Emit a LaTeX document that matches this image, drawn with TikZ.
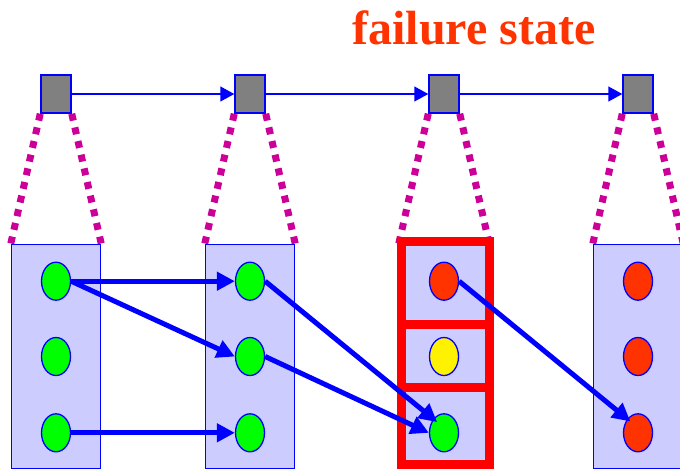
\documentclass[tikz,border=0pt]{standalone}
\usepackage{fontspec}
\setmainfont{Liberation Serif}
\usetikzlibrary{positioning,arrows.meta,shapes.geometric}

\definecolor{cellfill}{RGB}{204,204,255}
\definecolor{failred}{RGB}{255,51,0}
\definecolor{zoompink}{RGB}{204,0,153}

\tikzset{
	macro/.style = {draw=blue, line width=1.5pt, fill=gray, minimum width=30pt, minimum height=38pt, inner sep=0pt},
	micro/.style = {draw=blue, line width=1.5pt, fill=cellfill, minimum width=89pt, minimum height=224pt, inner sep=0pt},
	state/.style = {ellipse, draw=blue, line width=1.3pt, minimum width=29pt, minimum height=38pt, inner sep=0pt},
	ok/.style    = {state, fill=green},
	warn/.style  = {state, fill=yellow},
	bad/.style   = {state, fill=failred},
	step link/.style = {draw=blue, line width=1.5pt, -{Triangle[length=14pt, width=15pt]}},
	move/.style  = {draw=blue, line width=5pt, -{Triangle[length=18pt, width=18pt]}},
	zoomline/.style = {draw=zoompink, line width=7pt, dash pattern=on 7pt off 7pt},
	failframe/.style = {draw=red, line width=9pt},
}

\begin{document}
\begin{tikzpicture}[x=1pt, y=-1pt, node distance=162.5pt]
	\useasboundingbox (0,0) rectangle (680,469);

	\node [text=failred, font=\fontsize{48}{50}\selectfont\bfseries, anchor=base] (title) at (474,44) {failure state};

	% coarse chain
	\node [macro] (s1) at (56,94) {};
	\node [macro, right = of s1] (s2) {};
	\node [macro, right = of s2] (s3) {};
	\node [macro, right = of s3] (s4) {};

	% expanded cells
	\node [micro, below = 130pt of s1] (b1) {};
	\node [micro, below = 130pt of s2] (b2) {};
	\node [micro, below = 130pt of s3] (b3) {};
	\node [micro, below = 130pt of s4] (b4) {};

	\draw [step link] (s1) -- (s2);
	\draw [step link] (s2) -- (s3);
	\draw [step link] (s3) -- (s4);

	\draw [zoomline] (s1.south west) -- (b1.north west);
	\draw [zoomline] (s1.south east) -- (b1.north east);
	\draw [zoomline] (s2.south west) -- (b2.north west);
	\draw [zoomline] (s2.south east) -- (b2.north east);
	\draw [zoomline] (s3.south west) -- (b3.north west);
	\draw [zoomline] (s3.south east) -- (b3.north east);
	\draw [zoomline] (s4.south west) -- (b4.north west);
	\draw [zoomline] (s4.south east) -- (b4.north east);

	% states inside each cell
	\node [ok] (a2) at (b1.center) {};
	\node [ok, above = 36pt of a2] (a1) {};
	\node [ok, below = 37pt of a2] (a3) {};

	\node [ok] (c2) at (b2.center) {};
	\node [ok, above = 36pt of c2] (c1) {};
	\node [ok, below = 37pt of c2] (c3) {};

	\node [warn] (d2) at (b3.center) {};
	\node [bad, above = 36pt of d2] (d1) {};
	\node [ok, below = 37pt of d2] (d3) {};

	\node [bad] (e2) at (b4.center) {};
	\node [bad, above = 36pt of e2] (e1) {};
	\node [bad, below = 37pt of e2] (e3) {};

	% failure cell
	\draw [failframe] (401,241) rectangle (489,324);
	\draw [failframe] (401,324) rectangle (489,387);
	\draw [failframe] (401,387) rectangle (489,464);

	\draw [move] (a1.east) -- (c1.west);
	\draw [move] (a1.east) -- (c2.west);
	\draw [move] (a3.east) -- (c3.west);
	\draw [move, shorten >=-5pt] (c1.east) -- (d3.north west);
	\draw [move] (c2.east) -- (d3.west);
	\draw [move, shorten >=-4pt] (d1.east) -- (e3.north west);
\end{tikzpicture}
\end{document}
